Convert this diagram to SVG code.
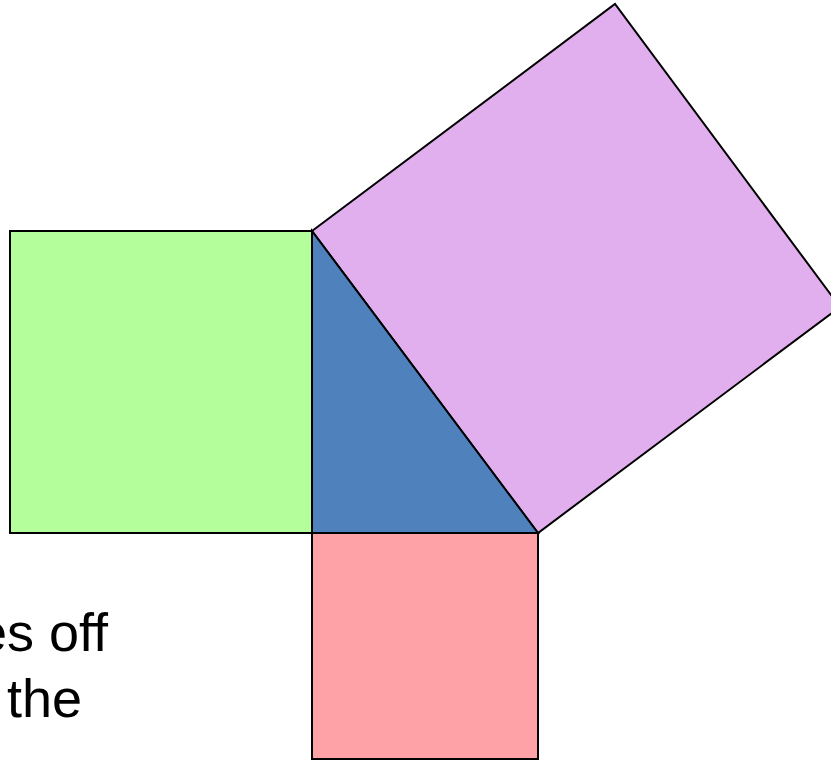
<svg xmlns="http://www.w3.org/2000/svg" width="831" height="761" viewBox="0 0 831 761">
<style>
.s{stroke:#000;stroke-width:2;stroke-linejoin:miter}
.t{font-family:"Liberation Sans",Arial,sans-serif;font-size:54px;fill:#000}
</style>
<rect width="831" height="761" fill="#fff"/>
<g id="green-square"><rect class="s" x="10" y="231" width="302" height="302" fill="#b4fe9c"/></g>
<g id="red-square"><rect class="s" x="312" y="533" width="226" height="226" fill="#fea2a7"/></g>
<g id="purple-square"><polygon class="s" points="312,231 615,4 840,307 538,533" fill="#e1afee"/></g>
<g id="triangle"><polygon class="s" points="312,231 312,533 538,533" fill="#4f81bd"/></g>
<g id="text">
<text class="t" x="-23" y="651">es off</text>
<text class="t" x="7" y="717">the</text>
</g>
<g id="connectors"/>
</svg>
